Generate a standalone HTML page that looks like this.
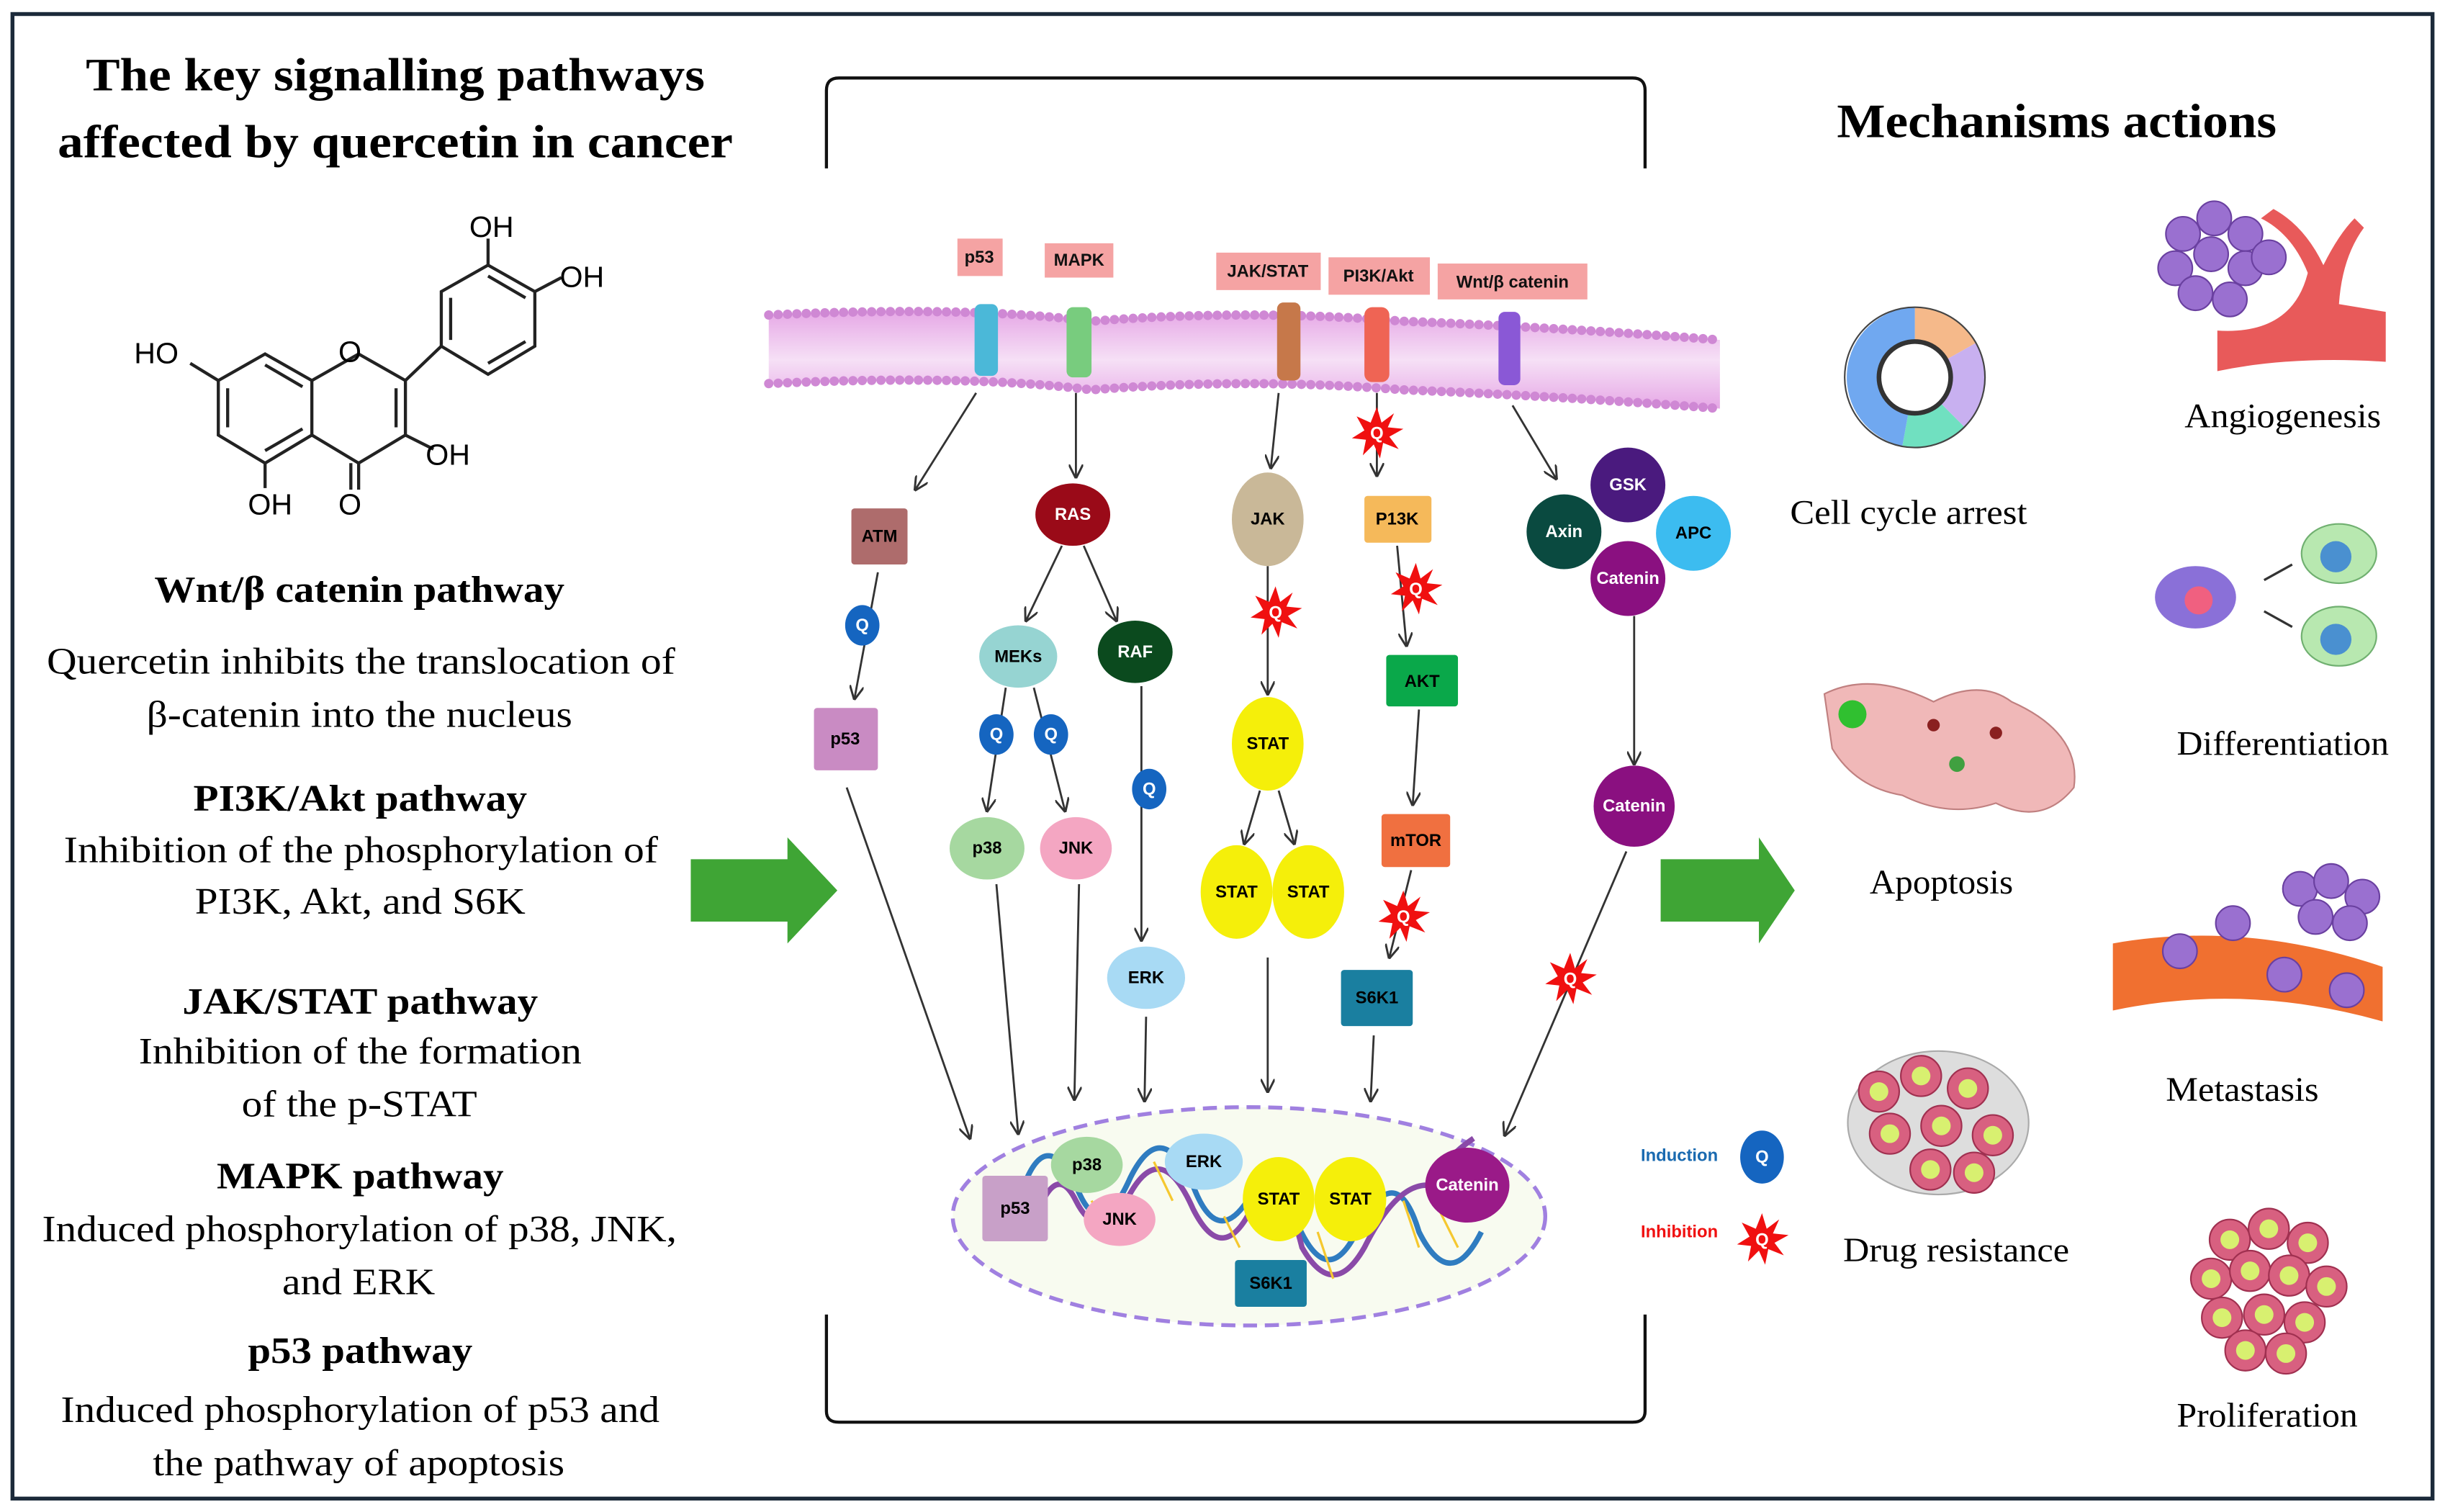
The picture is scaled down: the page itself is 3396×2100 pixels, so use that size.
<!DOCTYPE html>
<html><head><meta charset="utf-8"><style>
html,body{margin:0;padding:0;background:#fff;}
svg{display:block;}
.s{font-family:"Liberation Serif",serif;fill:#000;}
.n{font-family:"Liberation Sans",sans-serif;font-size:11px;font-weight:bold;text-anchor:middle;dominant-baseline:central;}
</style></head><body>
<svg width="3396" height="2100" viewBox="0 0 1568 969.6" xmlns="http://www.w3.org/2000/svg">
<defs>
<marker id="ah" viewBox="0 0 10 10" refX="9" refY="5" markerWidth="7" markerHeight="7" orient="auto"><path d="M0,0 L10,5 L0,10" fill="none" stroke="#333" stroke-width="1.5"/></marker>
<g id="star"><polygon points="0,-17 3,-7 11,-13 7,-4 17,-3 8,2 14,10 4,6 2,16 -2,7 -9,14 -7,4 -16,3 -8,-2 -13,-11 -4,-7" fill="#f01010"/></g>
<g id="cell"><circle r="13" fill="#d86080" stroke="#a03050" stroke-width="1"/><circle r="6" fill="#d8f070"/></g>
<g id="pc"><circle r="11" fill="#9a70d0" stroke="#6a40a0" stroke-width="1"/></g>
<linearGradient id="mem" x1="0" y1="0" x2="0" y2="1"><stop offset="0" stop-color="#e6a8e6"/><stop offset="0.5" stop-color="#f6e0f6"/><stop offset="1" stop-color="#e6a8e6"/></linearGradient>
</defs>
<rect x="8" y="9" width="1552" height="952" fill="#fff" stroke="#1c2a3a" stroke-width="2.5"/>

<text class="s" x="55" y="58" font-size="30" font-weight="bold" textLength="397" lengthAdjust="spacingAndGlyphs">The key signalling pathways</text>
<text class="s" x="37" y="101" font-size="30" font-weight="bold" textLength="433" lengthAdjust="spacingAndGlyphs">affected by quercetin in cancer</text>

<g stroke="#222" stroke-width="2" fill="none">
<polygon points="170,227 200,244 200,279 170,297 140,279 140,244"/>
<polyline points="200,244 230,227 260,244 260,279 230,297 200,279"/>
<line x1="146" y1="249" x2="146" y2="274"/><line x1="170" y1="289" x2="194" y2="275"/><line x1="170" y1="234" x2="194" y2="248"/>
<line x1="254" y1="249" x2="254" y2="274"/>
<line x1="230" y1="297" x2="230" y2="314"/><line x1="225" y1="297" x2="225" y2="314"/>
<line x1="260" y1="279" x2="278" y2="288"/>
<line x1="260" y1="244" x2="283" y2="222"/>
<polygon points="313,170 343,187 343,222 313,240 283,222 283,187"/>
<line x1="289" y1="191" x2="289" y2="218"/><line x1="313" y1="233" x2="337" y2="219"/><line x1="313" y1="177" x2="337" y2="191"/>
<line x1="313" y1="170" x2="313" y2="153"/><line x1="343" y1="187" x2="360" y2="178"/>
<line x1="140" y1="244" x2="122" y2="233"/><line x1="170" y1="297" x2="170" y2="313"/>
</g>
<g font-size="19" font-family="Liberation Sans,sans-serif">
<text x="301" y="152">OH</text><text x="359" y="184">OH</text><text x="86" y="233">HO</text><text x="217" y="232">O</text>
<text x="273" y="298">OH</text><text x="159" y="330">OH</text><text x="217" y="330">O</text>
</g>

<g class="s" font-size="24" lengthAdjust="spacingAndGlyphs">
<text x="99" y="386" font-weight="bold" textLength="263" lengthAdjust="spacingAndGlyphs">Wnt/β catenin pathway</text>
<text x="30" y="432" textLength="403" lengthAdjust="spacingAndGlyphs">Quercetin inhibits the translocation of</text>
<text x="94" y="466" textLength="273" lengthAdjust="spacingAndGlyphs">β-catenin into the nucleus</text>
<text x="124" y="520" font-weight="bold" textLength="214" lengthAdjust="spacingAndGlyphs">PI3K/Akt pathway</text>
<text x="41" y="553" textLength="381" lengthAdjust="spacingAndGlyphs">Inhibition of the phosphorylation of</text>
<text x="125" y="586" textLength="212" lengthAdjust="spacingAndGlyphs">PI3K, Akt, and S6K</text>
<text x="117" y="650" font-weight="bold" textLength="228" lengthAdjust="spacingAndGlyphs">JAK/STAT pathway</text>
<text x="89" y="682" textLength="284" lengthAdjust="spacingAndGlyphs">Inhibition of the formation</text>
<text x="155" y="716" textLength="151" lengthAdjust="spacingAndGlyphs">of the p-STAT</text>
<text x="139" y="762" font-weight="bold" textLength="184" lengthAdjust="spacingAndGlyphs">MAPK pathway</text>
<text x="27" y="796" textLength="407" lengthAdjust="spacingAndGlyphs">Induced phosphorylation of p38, JNK,</text>
<text x="181" y="830" textLength="98" lengthAdjust="spacingAndGlyphs">and ERK</text>
<text x="159" y="874" font-weight="bold" textLength="144" lengthAdjust="spacingAndGlyphs">p53 pathway</text>
<text x="39" y="912" textLength="384" lengthAdjust="spacingAndGlyphs">Induced phosphorylation of p53 and</text>
<text x="98" y="946" textLength="264" lengthAdjust="spacingAndGlyphs">the pathway of apoptosis</text>
</g>

<polygon points="443,551 505,551 505,537 537,571 505,605 505,591 443,591" fill="#3fa535"/>
<polygon points="1065,551 1128,551 1128,537 1151,571 1128,605 1128,591 1065,591" fill="#3fa535"/>

<path d="M530,108 V58 Q530,50 538,50 H1047 Q1055,50 1055,58 V108" fill="none" stroke="#111" stroke-width="2"/>
<path d="M530,843 V905 Q530,912 538,912 H1047 Q1055,912 1055,905 V843" fill="none" stroke="#111" stroke-width="2"/>

<path d="M493,202 Q620,196 700,206 Q800,198 900,206 Q1000,210 1103,218 L1103,262 Q1000,254 900,250 Q800,242 700,250 Q620,240 493,246 Z" fill="url(#mem)"/>
<path d="M493,202 Q620,196 700,206 Q800,198 900,206 Q1000,210 1103,218" fill="none" stroke="#cf88d4" stroke-width="6" stroke-dasharray="0 6" stroke-linecap="round"/>
<path d="M493,246 Q620,240 700,250 Q800,242 900,250 Q1000,254 1103,262" fill="none" stroke="#cf88d4" stroke-width="6" stroke-dasharray="0 6" stroke-linecap="round"/>
<rect x="625" y="195" width="15" height="46" rx="4" fill="#4bb8d8"/>
<rect x="684" y="197" width="16" height="45" rx="4" fill="#78cc7e"/>
<rect x="819" y="194" width="15" height="50" rx="4" fill="#c6784a"/>
<rect x="875" y="197" width="16" height="48" rx="5" fill="#ef6454"/>
<rect x="961" y="200" width="14" height="47" rx="4" fill="#8a58d6"/>

<g fill="#f5a3a3"><rect x="614" y="153" width="29" height="24"/><rect x="670" y="156" width="44" height="22"/><rect x="780" y="162" width="67" height="24"/><rect x="852" y="165" width="65" height="24"/><rect x="922" y="169" width="96" height="23"/></g>
<g class="n" font-size="14" font-weight="normal" fill="#111">
<text x="628" y="165">p53</text><text x="692" y="167">MAPK</text><text x="813" y="174">JAK/STAT</text><text x="884" y="177">PI3K/Akt</text><text x="970" y="181">Wnt/β catenin</text>
</g>

<g stroke="#333" stroke-width="1.3" fill="none" marker-end="url(#ah)">
<line x1="626" y1="252" x2="587" y2="314"/><line x1="690" y1="252" x2="690" y2="306"/>
<line x1="820" y1="252" x2="815" y2="300"/><line x1="883" y1="252" x2="883" y2="305"/>
<line x1="970" y1="260" x2="998" y2="307"/>
<line x1="563" y1="367" x2="548" y2="448"/>
<line x1="681" y1="350" x2="658" y2="398"/><line x1="695" y1="350" x2="716" y2="398"/>
<line x1="645" y1="441" x2="633" y2="520"/><line x1="663" y1="441" x2="683" y2="520"/>
<line x1="732" y1="440" x2="732" y2="603"/>
<line x1="813" y1="363" x2="813" y2="445"/>
<line x1="808" y1="507" x2="798" y2="541"/><line x1="820" y1="507" x2="830" y2="541"/>
<line x1="896" y1="350" x2="902" y2="414"/><line x1="910" y1="455" x2="906" y2="516"/>
<line x1="905" y1="558" x2="891" y2="614"/>
<line x1="1048" y1="395" x2="1048" y2="490"/>
<line x1="543" y1="505" x2="622" y2="730"/><line x1="639" y1="567" x2="653" y2="727"/>
<line x1="692" y1="567" x2="689" y2="705"/><line x1="735" y1="652" x2="734" y2="706"/>
<line x1="813" y1="614" x2="813" y2="700"/><line x1="881" y1="664" x2="879" y2="706"/>
<line x1="1043" y1="546" x2="965" y2="728"/>
</g>

<rect x="546" y="326" width="36" height="36" rx="2" fill="#ae6c6c"/><text class="n" x="564" y="344">ATM</text>
<rect x="522" y="454" width="41" height="40" rx="2" fill="#c98bc3"/><text class="n" x="542" y="474">p53</text>
<ellipse cx="688" cy="330" rx="24" ry="20" fill="#9a0a18"/><text class="n" x="688" y="330" fill="#fff">RAS</text>
<ellipse cx="653" cy="421" rx="25" ry="20" fill="#96d4d2"/><text class="n" x="653" y="421">MEKs</text>
<ellipse cx="728" cy="418" rx="24" ry="20" fill="#0b4a1e"/><text class="n" x="728" y="418" fill="#fff">RAF</text>
<ellipse cx="633" cy="544" rx="24" ry="20" fill="#a6d8a0"/><text class="n" x="633" y="544">p38</text>
<ellipse cx="690" cy="544" rx="23" ry="20" fill="#f4a6c2"/><text class="n" x="690" y="544">JNK</text>
<ellipse cx="735" cy="627" rx="25" ry="20" fill="#a8daf4"/><text class="n" x="735" y="627">ERK</text>
<ellipse cx="813" cy="333" rx="23" ry="30" fill="#c9b898"/><text class="n" x="813" y="333">JAK</text>
<ellipse cx="813" cy="477" rx="23" ry="30" fill="#f5ef0a"/><text class="n" x="813" y="477">STAT</text>
<ellipse cx="793" cy="572" rx="23" ry="30" fill="#f5ef0a"/><text class="n" x="793" y="572">STAT</text>
<ellipse cx="839" cy="572" rx="23" ry="30" fill="#f5ef0a"/><text class="n" x="839" y="572">STAT</text>
<rect x="875" y="318" width="43" height="30" rx="2" fill="#f5b95a"/><text class="n" x="896" y="333">P13K</text>
<rect x="889" y="420" width="46" height="33" rx="2" fill="#0aa84a"/><text class="n" x="912" y="437">AKT</text>
<rect x="886" y="522" width="44" height="34" rx="2" fill="#f07040"/><text class="n" x="908" y="539">mTOR</text>
<rect x="860" y="622" width="46" height="36" rx="2" fill="#1a7fa0"/><text class="n" x="883" y="640">S6K1</text>
<circle cx="1044" cy="311" r="24" fill="#4a1a7e"/><text class="n" x="1044" y="311" fill="#fff">GSK</text>
<circle cx="1003" cy="341" r="24" fill="#0a4a40"/><text class="n" x="1003" y="341" fill="#fff">Axin</text>
<circle cx="1086" cy="342" r="24" fill="#3cbcf0"/><text class="n" x="1086" y="342">APC</text>
<circle cx="1044" cy="371" r="24" fill="#8a1080"/><text class="n" x="1044" y="371" fill="#fff">Catenin</text>
<circle cx="1048" cy="517" r="26" fill="#8a1080"/><text class="n" x="1048" y="517" fill="#fff">Catenin</text>

<g fill="#1565c0"><ellipse cx="553" cy="401" rx="11" ry="13"/><ellipse cx="639" cy="471" rx="11" ry="13"/><ellipse cx="674" cy="471" rx="11" ry="13"/><ellipse cx="737" cy="506" rx="11" ry="13"/></g>
<g class="n" fill="#fff" font-size="10"><text x="553" y="401">Q</text><text x="639" y="471">Q</text><text x="674" y="471">Q</text><text x="737" y="506">Q</text></g>
<use href="#star" x="818" y="393"/><use href="#star" x="883" y="278"/><use href="#star" x="908" y="378"/><use href="#star" x="900" y="588"/><use href="#star" x="1007" y="628"/>
<g class="n" fill="#fff" font-size="10"><text x="818" y="393">Q</text><text x="883" y="278">Q</text><text x="908" y="378">Q</text><text x="900" y="588">Q</text><text x="1007" y="628">Q</text></g>

<ellipse cx="801" cy="780" rx="190" ry="70" fill="#f8fbf0" stroke="#a080e0" stroke-width="2.5" stroke-dasharray="9 5"/>
<path d="M655,765 Q670,720 690,760 Q705,800 725,755 Q745,715 765,760 Q780,800 800,770 Q815,750 830,780 Q850,830 870,790 Q895,740 910,790 Q930,830 950,790" fill="none" stroke="#2f7cc0" stroke-width="3.5"/>
<path d="M660,795 Q675,740 690,770 Q705,800 725,765 Q745,730 765,775 Q785,815 805,770 Q820,740 835,800 Q855,835 875,800 Q895,760 915,760 Q930,740 945,730" fill="none" stroke="#8a4aa8" stroke-width="3.5"/>
<g stroke="#f5c830" stroke-width="1.5"><line x1="700" y1="770" x2="712" y2="790"/><line x1="740" y1="745" x2="752" y2="770"/><line x1="785" y1="780" x2="795" y2="800"/><line x1="845" y1="790" x2="855" y2="820"/><line x1="900" y1="770" x2="910" y2="800"/><line x1="920" y1="770" x2="935" y2="800"/></g>
<rect x="630" y="754" width="42" height="42" rx="2" fill="#c8a0c8"/><text class="n" x="651" y="775">p53</text>
<ellipse cx="697" cy="747" rx="23" ry="18" fill="#a6d8a0"/><text class="n" x="697" y="747">p38</text>
<ellipse cx="718" cy="782" rx="23" ry="17" fill="#f4a6c2"/><text class="n" x="718" y="782">JNK</text>
<ellipse cx="772" cy="745" rx="25" ry="18" fill="#a8daf4"/><text class="n" x="772" y="745">ERK</text>
<ellipse cx="820" cy="769" rx="23" ry="27" fill="#f5ef0a"/><text class="n" x="820" y="769">STAT</text>
<ellipse cx="866" cy="769" rx="23" ry="27" fill="#f5ef0a"/><text class="n" x="866" y="769">STAT</text>
<ellipse cx="941" cy="760" rx="27" ry="24" fill="#9a1a88"/><text class="n" x="941" y="760" fill="#fff">Catenin</text>
<rect x="792" y="808" width="46" height="30" rx="2" fill="#1a7fa0"/><text class="n" x="815" y="823">S6K1</text>

<text class="n" x="1077" y="741" fill="#1a6ab0" font-weight="normal" font-size="12">Induction</text>
<ellipse cx="1130" cy="742" rx="14" ry="17" fill="#1565c0"/><text class="n" x="1130" y="742" fill="#fff">Q</text>
<text class="n" x="1077" y="790" fill="#f01010" font-weight="normal" font-size="12">Inhibition</text>
<use href="#star" x="1130" y="795"/><text class="n" x="1130" y="795" fill="#fff">Q</text>

<text class="s" x="1178" y="88" font-size="31" font-weight="bold" textLength="282" lengthAdjust="spacingAndGlyphs">Mechanisms actions</text>
<g transform="translate(1228,242)">
<path d="M0,0 L0,-45 A45,45 0 0,1 39,-22 Z" fill="#f5b98a"/>
<path d="M0,0 L39,-22 A45,45 0 0,1 32,32 Z" fill="#c8b0f0"/>
<path d="M0,0 L32,32 A45,45 0 0,1 -8,44 Z" fill="#70e0c0"/>
<path d="M0,0 L-8,44 A45,45 0 0,1 0,-45 Z" fill="#70a8f0"/>
<circle r="45" fill="none" stroke="#444" stroke-width="1"/>
<circle r="23" fill="#fff" stroke="#333" stroke-width="3"/>
</g>
<text class="s" x="1148" y="336" font-size="22" textLength="152" lengthAdjust="spacingAndGlyphs">Cell cycle arrest</text>
<!-- angiogenesis -->
<path d="M1422,212 Q1470,215 1480,175 Q1470,150 1450,140 L1458,134 Q1478,145 1490,170 Q1500,150 1510,140 L1516,146 Q1502,165 1500,195 L1530,200 L1530,232 Q1470,228 1422,238 Z" fill="#e85a5a"/>
<g><use href="#pc" x="1400" y="150"/><use href="#pc" x="1420" y="140"/><use href="#pc" x="1440" y="150"/><use href="#pc" x="1395" y="172"/><use href="#pc" x="1418" y="163"/><use href="#pc" x="1440" y="172"/><use href="#pc" x="1408" y="188"/><use href="#pc" x="1430" y="192"/><use href="#pc" x="1455" y="165"/></g>
<text class="s" x="1401" y="274" font-size="22" textLength="126" lengthAdjust="spacingAndGlyphs">Angiogenesis</text>
<ellipse cx="1408" cy="383" rx="26" ry="20" fill="#8a70d8"/><circle cx="1410" cy="385" r="9" fill="#f06080"/>
<ellipse cx="1500" cy="355" rx="24" ry="19" fill="#b8e8b0" stroke="#70b070"/><circle cx="1498" cy="357" r="10" fill="#4a90d0"/>
<ellipse cx="1500" cy="408" rx="24" ry="19" fill="#b8e8b0" stroke="#70b070"/><circle cx="1498" cy="410" r="10" fill="#4a90d0"/>
<line x1="1452" y1="372" x2="1470" y2="362" stroke="#333" stroke-width="1.5"/><line x1="1452" y1="392" x2="1470" y2="402" stroke="#333" stroke-width="1.5"/>
<text class="s" x="1396" y="484" font-size="22" textLength="136" lengthAdjust="spacingAndGlyphs">Differentiation</text>
<path d="M1170,445 Q1200,430 1240,450 Q1270,435 1290,450 Q1335,470 1330,505 Q1310,530 1280,515 Q1250,525 1220,510 Q1190,505 1175,480 Z" fill="#f0b8b8" stroke="#c08080"/>
<circle cx="1188" cy="458" r="9" fill="#30c030"/><circle cx="1255" cy="490" r="5" fill="#40a040"/><circle cx="1280" cy="470" r="4" fill="#8a2020"/><circle cx="1240" cy="465" r="4" fill="#8a2020"/>
<text class="s" x="1199" y="573" font-size="22" textLength="92" lengthAdjust="spacingAndGlyphs">Apoptosis</text>
<path d="M1355,605 Q1440,590 1528,620 L1528,655 Q1440,630 1355,648 Z" fill="#f07030"/>
<g><use href="#pc" x="1475" y="570"/><use href="#pc" x="1495" y="565"/><use href="#pc" x="1515" y="575"/><use href="#pc" x="1485" y="588"/><use href="#pc" x="1507" y="592"/><use href="#pc" x="1432" y="592"/><use href="#pc" x="1398" y="610"/><use href="#pc" x="1465" y="625"/><use href="#pc" x="1505" y="635"/></g>
<text class="s" x="1389" y="706" font-size="22" textLength="98" lengthAdjust="spacingAndGlyphs">Metastasis</text>
<ellipse cx="1243" cy="720" rx="58" ry="46" fill="#dddddd" stroke="#aaa"/>
<g><use href="#cell" x="1205" y="700"/><use href="#cell" x="1232" y="690"/><use href="#cell" x="1262" y="698"/><use href="#cell" x="1212" y="727"/><use href="#cell" x="1245" y="722"/><use href="#cell" x="1278" y="728"/><use href="#cell" x="1238" y="750"/><use href="#cell" x="1266" y="752"/></g>
<text class="s" x="1182" y="809" font-size="22" textLength="145" lengthAdjust="spacingAndGlyphs">Drug resistance</text>
<g><use href="#cell" x="1430" y="795"/><use href="#cell" x="1455" y="788"/><use href="#cell" x="1480" y="797"/><use href="#cell" x="1418" y="820"/><use href="#cell" x="1443" y="815"/><use href="#cell" x="1468" y="818"/><use href="#cell" x="1492" y="825"/><use href="#cell" x="1425" y="845"/><use href="#cell" x="1452" y="843"/><use href="#cell" x="1478" y="848"/><use href="#cell" x="1440" y="866"/><use href="#cell" x="1466" y="868"/></g>
<text class="s" x="1396" y="915" font-size="22" textLength="116" lengthAdjust="spacingAndGlyphs">Proliferation</text>
</svg>
</body></html>
